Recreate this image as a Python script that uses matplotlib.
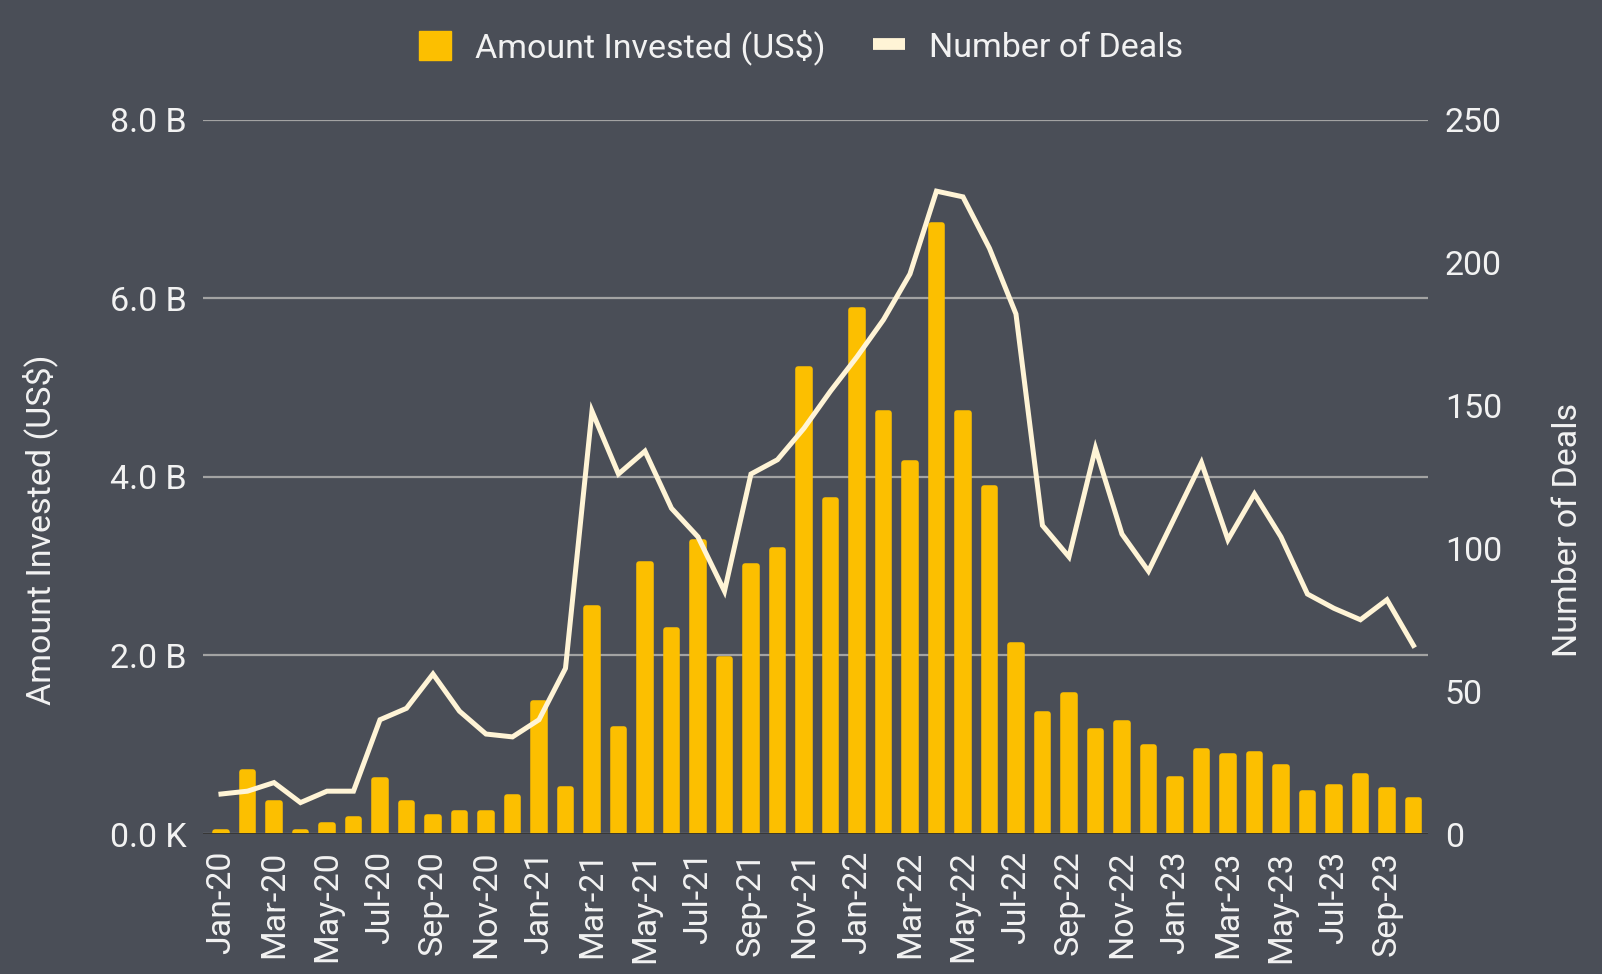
import matplotlib
matplotlib.use('Agg')
import matplotlib.pyplot as plt
from matplotlib.ticker import FuncFormatter
from matplotlib.patches import Patch
from matplotlib.lines import Line2D

#---------------------------------------------------#
#   data
#---------------------------------------------------#
months = ['Jan-20', 'Feb-20', 'Mar-20', 'Apr-20', 'May-20', 'Jun-20',
          'Jul-20', 'Aug-20', 'Sep-20', 'Oct-20', 'Nov-20', 'Dec-20',
          'Jan-21', 'Feb-21', 'Mar-21', 'Apr-21', 'May-21', 'Jun-21',
          'Jul-21', 'Aug-21', 'Sep-21', 'Oct-21', 'Nov-21', 'Dec-21',
          'Jan-22', 'Feb-22', 'Mar-22', 'Apr-22', 'May-22', 'Jun-22',
          'Jul-22', 'Aug-22', 'Sep-22', 'Oct-22', 'Nov-22', 'Dec-22',
          'Jan-23', 'Feb-23', 'Mar-23', 'Apr-23', 'May-23', 'Jun-23',
          'Jul-23', 'Aug-23', 'Sep-23', 'Oct-23']

# amount invested, billions of US$
amount_b = [0.02, 0.69, 0.35, 0.02, 0.10, 0.17, 0.60, 0.35, 0.19, 0.23,
            0.23, 0.41, 1.47, 0.50, 2.53, 1.18, 3.02, 2.28, 3.27, 1.96,
            3.00, 3.18, 5.21, 3.74, 5.87, 4.71, 4.16, 6.82, 4.71, 3.87,
            2.12, 1.34, 1.56, 1.15, 1.24, 0.97, 0.62, 0.93, 0.87, 0.90,
            0.75, 0.46, 0.53, 0.65, 0.49, 0.38]

deals = [14, 15, 18, 11, 15, 15, 40, 44, 56, 43, 35, 34,
         40, 58, 148, 126, 134, 114, 104, 85, 126, 131, 142, 155,
         167, 180, 196, 225, 223, 205, 182, 108, 97, 135, 105, 92,
         111, 130, 103, 119, 104, 84, 79, 75, 82, 66]

left_ticks = [0, 2, 4, 6, 8]
right_ticks = [0, 50, 100, 150, 200, 250]

#---------------------------------------------------#
#   style
#---------------------------------------------------#
bg_color    = '#4a4e57'
bar_color   = '#fcbf00'
line_color  = '#fff4d6'
text_color  = '#f2f2f2'
grid_color  = '#a3a3a3'
fs          = 24.5

plt.rcParams['font.family'] = ['Roboto', 'DejaVu Sans']

fig = plt.figure(figsize=(16.02, 9.74), dpi=100, facecolor=bg_color)
ax = fig.add_axes([0.1267, 0.1437, 0.7647, 0.7334])
ax.set_facecolor(bg_color)
ax2 = ax.twinx()

x = list(range(len(months)))
ax.bar(x, amount_b, width=0.44, color=bar_color, edgecolor=bar_color,
       linewidth=4, joinstyle='round', zorder=2)
ax.axhline(0, color='#2a2a2a', lw=2, zorder=3)

ax2.plot(x, deals, color=line_color, lw=3.6, solid_joinstyle='miter', zorder=4)

ax.set_xlim(-0.68, 45.55)
ax.set_ylim(0, 8)
ax2.set_ylim(0, 250)

ax.set_yticks(left_ticks)
ax.yaxis.set_major_formatter(FuncFormatter(lambda v, p: '0.0 K' if v == 0 else '%.1f B' % v))
ax2.set_yticks(right_ticks)

ax.set_xticks(x[::2])
ax.set_xticklabels(months[::2], rotation=90, ha='center', va='top')

ax.grid(axis='y', color=grid_color, lw=1.6, zorder=0)
ax.grid(axis='x', visible=False)
ax.set_axisbelow(True)

for a in (ax, ax2):
    for s in a.spines.values():
        s.set_visible(False)
    a.tick_params(length=0, labelsize=fs, colors=text_color, pad=12)

#---------------------------------------------------#
#   axis titles and legend
#---------------------------------------------------#
fig.text(0.025, 0.456, 'Amount Invested (US$)', rotation=90, ha='center',
         va='center', fontsize=fs, color=text_color)
fig.text(0.979, 0.456, 'Number of Deals', rotation=90, ha='center',
         va='center', fontsize=fs, color=text_color)

handles = [Patch(facecolor=bar_color, edgecolor=bar_color),
           Line2D([0], [0], color=line_color, lw=8.5, solid_capstyle='butt')]
fig.legend(handles, ['Amount Invested (US$)', 'Number of Deals'],
           loc='center', bbox_to_anchor=(0.5, 0.952), ncol=2, frameon=False,
           fontsize=fs, labelcolor=text_color, handlelength=0.95,
           handleheight=0.95, handletextpad=0.7, columnspacing=1.4)

fig.savefig('out.png', dpi=100, facecolor=bg_color)
